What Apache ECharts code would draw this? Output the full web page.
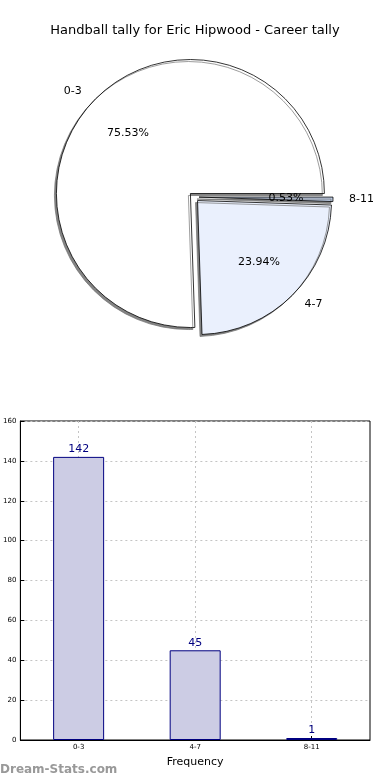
<!DOCTYPE html>
<html><head><meta charset="utf-8">
<script src="https://cdn.jsdelivr.net/npm/echarts@6/dist/echarts.min.js"></script>
<style>html,body{margin:0;padding:0;background:#fff}#c{width:390px;height:780px}</style>
</head><body><div id="c"></div>
<script>
var categories = ['0-3', '4-7', '8-11'];
var counts = [142, 45, 1];
var sliceColors = ['#ffffff', '#eaf0fd', '#bccbe3'];
var yTicks = [0, 20, 40, 60, 80, 100, 120, 140, 160];
var titleText = 'Handball tally for Eric Hipwood - Career tally';

var font = 'DejaVu Sans';
var pieData = categories.map(function (c, i) {
  return { name: c, value: counts[i], selected: true, itemStyle: { color: sliceColors[i] } };
});
var pctData = categories.map(function (c, i) {
  return { name: c, value: counts[i], selected: true };
});

var chart = echarts.init(document.getElementById('c'), null, { renderer: 'canvas' });
chart.setOption({
  animation: false,
  backgroundColor: '#fff',
  textStyle: { fontFamily: font },
  title: {
    text: titleText, left: 'center', top: 19,
    textStyle: { fontFamily: font, fontSize: 13, fontWeight: 'normal', color: '#000' }
  },
  graphic: [{
    type: 'text', left: 0, top: 764,
    style: { text: 'Dream-Stats.com', fill: '#999', font: 'bold 12px "DejaVu Sans"' }
  }],
  grid: { left: 19, right: 20, top: 421, bottom: 40, show: true, borderColor: '#000', borderWidth: 1, backgroundColor: 'transparent' },
  xAxis: {
    type: 'category', data: categories,
    name: 'Frequency', nameLocation: 'middle', nameGap: 17,
    nameTextStyle: { fontFamily: font, fontSize: 11, color: '#000' },
    axisLine: { lineStyle: { color: '#000' } },
    axisTick: { show: true, inside: true, alignWithLabel: true, length: 4, lineStyle: { color: '#000' } },
    axisLabel: { fontFamily: font, fontSize: 7, color: '#000', margin: 4 },
    splitLine: { show: true, alignWithLabel: true, lineStyle: { color: '#c4c4c4', type: [2, 3] } }
  },
  yAxis: {
    type: 'value', min: yTicks[0], max: yTicks[yTicks.length - 1], interval: yTicks[1] - yTicks[0],
    axisLine: { show: true, lineStyle: { color: '#000' } },
    axisTick: { show: true, inside: true, length: 4, lineStyle: { color: '#000' } },
    axisLabel: { fontFamily: font, fontSize: 7, color: '#000', margin: 4 },
    splitLine: { show: true, lineStyle: { color: '#c4c4c4', type: [2, 3] } }
  },
  series: [
    {
      type: 'pie', silent: true, center: [194, 197], radius: [0, 134],
      startAngle: 0, clockwise: false,
      selectedMode: 'multiple', selectedOffset: 5,
      avoidLabelOverlap: false,
      data: pieData,
      itemStyle: { borderColor: '#000', borderWidth: 0.8, shadowColor: 'rgba(110,110,110,0.85)', shadowBlur: 0, shadowOffsetX: -2, shadowOffsetY: 2 },
      label: { show: true, position: 'outside', formatter: '{b}', fontFamily: font, fontSize: 11, color: '#000', distanceToLabelLine: 3 },
      labelLine: { show: false, length: 13, length2: 0 },
      emphasis: { disabled: true }
    },
    {
      type: 'pie', silent: true, center: [194, 197], radius: [0, 168],
      startAngle: 0, clockwise: false,
      selectedMode: 'multiple', selectedOffset: 5,
      avoidLabelOverlap: false,
      data: pctData,
      itemStyle: { color: 'rgba(0,0,0,0)', borderWidth: 0 },
      label: { show: true, position: 'inside', formatter: '{d}%', fontFamily: font, fontSize: 11, color: '#000' },
      labelLine: { show: false },
      emphasis: { disabled: true }
    },
    {
      type: 'bar', data: counts, barWidth: 51,
      itemStyle: { color: '#ccccE4', borderColor: '#000080', borderWidth: 1 },
      label: { show: true, position: 'top', distance: 2, fontFamily: font, fontSize: 11, color: '#000080' }
    }
  ]
});
</script></body></html>
